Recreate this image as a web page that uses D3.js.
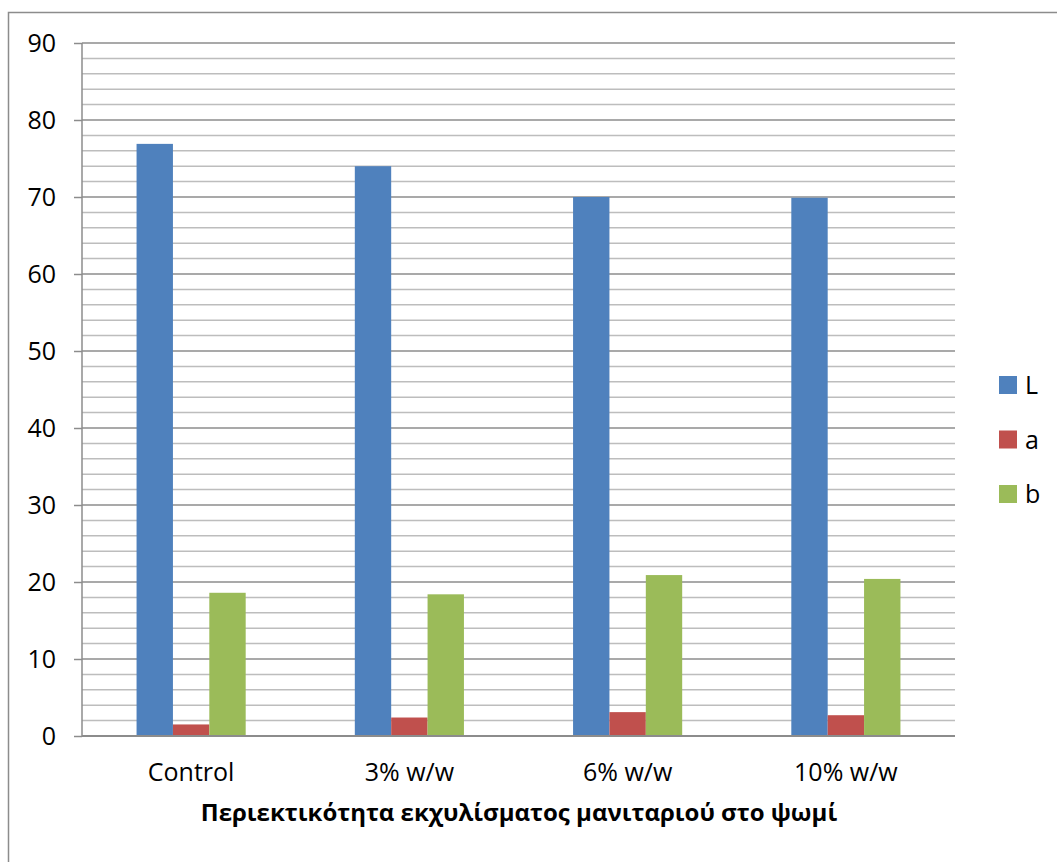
<!DOCTYPE html>
<html>
<head>
<meta charset="utf-8">
<script src="https://cdn.jsdelivr.net/npm/d3@7"></script>
<style>
  html, body { margin: 0; padding: 0; background: #fff; }
  svg { display: block; }
  text { font-family: "Open Sans", "Noto Sans", sans-serif; fill: #000; }
</style>
</head>
<body>
<svg id="chart" width="1057" height="862"></svg>
<script>
// Colour coordinates of bread crumb (L, a, b) per mushroom-extract content
const categories = ["Control", "3% w/w", "6% w/w", "10% w/w"];
const seriesNames = ["L", "a", "b"];
const valuesL = [76.9, 74.0, 70.0, 69.9];
const valuesA = [1.5, 2.4, 3.1, 2.7];
const valuesB = [18.6, 18.4, 20.9, 20.4];
const yTicks = [0, 10, 20, 30, 40, 50, 60, 70, 80, 90];
const xTitle = "Περιεκτικότητα εκχυλίσματος μανιταριού στο ψωμί";

const colors = { L: "#4F81BD", a: "#C0504D", b: "#9BBB59" };
const seriesValues = { L: valuesL, a: valuesA, b: valuesB };

const svg = d3.select("#chart");
const plot = { left: 82, right: 955, top: 43, bottom: 736 };

// outer chart frame
svg.append("rect")
  .attr("x", 8.5).attr("y", 12.5)
  .attr("width", 1100).attr("height", 900)
  .attr("fill", "none").attr("stroke", "#8c8c8c").attr("stroke-width", 1.5);

const y = d3.scaleLinear().domain([0, 90]).range([plot.bottom, plot.top]);
const x0 = d3.scaleBand().domain(categories).range([plot.left, plot.right]).paddingInner(0).paddingOuter(0);
const bw = x0.bandwidth() / 6;
const x1 = d3.scaleBand().domain(seriesNames)
  .range([x0.bandwidth() / 2 - 1.5 * bw, x0.bandwidth() / 2 + 1.5 * bw]).padding(0);

// minor gridlines every 2 units
const minor = d3.range(2, 90, 2).filter(v => v % 10 !== 0);
svg.append("g").selectAll("line").data(minor).join("line")
  .attr("x1", plot.left).attr("x2", plot.right)
  .attr("y1", d => y(d)).attr("y2", d => y(d))
  .attr("stroke", "#bdbdbd").attr("stroke-width", 1.5);

// major gridlines
svg.append("g").selectAll("line").data(yTicks.filter(v => v > 0)).join("line")
  .attr("x1", plot.left).attr("x2", plot.right)
  .attr("y1", d => y(d)).attr("y2", d => y(d))
  .attr("stroke", "#8c8c8c").attr("stroke-width", 1.5);

// bars
const groups = svg.append("g").selectAll("g").data(categories).join("g")
  .attr("transform", d => `translate(${x0(d)},0)`);
groups.selectAll("rect")
  .data((c, i) => seriesNames.map(s => ({ s, v: seriesValues[s][i] })))
  .join("rect")
  .attr("x", d => x1(d.s))
  .attr("width", x1.bandwidth())
  .attr("y", d => y(d.v))
  .attr("height", d => y(0) - y(d.v))
  .attr("fill", d => colors[d.s]);

// y axis
const yAxis = d3.axisLeft(y).tickValues(yTicks).tickSize(8).tickPadding(18);
const gy = svg.append("g").attr("transform", `translate(${plot.left},0)`).call(yAxis);
gy.select(".domain").attr("stroke", "#8c8c8c").attr("stroke-width", 1.5).attr("d", `M0,${plot.top}V${plot.bottom}`);
gy.selectAll(".tick line").attr("stroke", "#8c8c8c").attr("stroke-width", 1.5);
gy.selectAll(".tick text").attr("font-size", 25).attr("font-family", "Open Sans").attr("fill", "#000");

// x axis
const xAxis = d3.axisBottom(x0).tickSize(0).tickPadding(27);
const gx = svg.append("g").attr("transform", `translate(0,${plot.bottom})`).call(xAxis);
gx.select(".domain").attr("stroke", "#8c8c8c").attr("stroke-width", 2).attr("d", `M${plot.left},0H${plot.right}`);
gx.selectAll(".tick text").attr("font-size", 25).attr("font-family", "Open Sans").attr("fill", "#000");

// axis title
svg.append("text")
  .attr("x", 519).attr("y", 821)
  .attr("text-anchor", "middle")
  .attr("font-size", 24).attr("font-weight", "bold")
  .text(xTitle);

// legend
const legend = svg.append("g").selectAll("g").data(seriesNames).join("g")
  .attr("transform", (d, i) => `translate(999,${376 + i * 54.5})`);
legend.append("rect").attr("width", 18).attr("height", 18).attr("fill", d => colors[d]);
legend.append("text").attr("x", 26).attr("y", 18).attr("font-size", 25).text(d => d);
</script>
</body>
</html>
